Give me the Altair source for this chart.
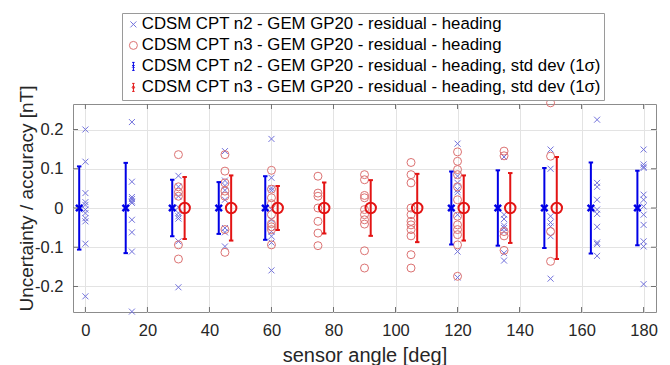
import altair as alt
import pandas as pd

# ---------------- data ----------------
n2_angles = [0, 15, 30, 45, 60, 120, 135, 150, 165, 180]
n2_std = [0.106, 0.115, 0.072, 0.066, 0.081, 0.093, 0.096, 0.102, 0.116, 0.095]
n3_angles = [30, 45, 60, 75, 90, 105, 120, 135, 150]
n3_std = [0.079, 0.083, 0.056, 0.065, 0.071, 0.087, 0.083, 0.089, 0.130]

n2_residuals = {
    0: [0.200, 0.118, 0.038, 0.015, 0.008, -0.004, -0.013, -0.026, -0.034, -0.091, -0.225],
    15: [0.219, 0.067, 0.028, 0.023, 0.017, 0.013, -0.030, -0.062, -0.111, -0.264],
    30: [0.082, 0.054, 0.030, 0.002, -0.013, -0.021, -0.027, -0.085, -0.202],
    45: [0.145, 0.070, 0.057, 0.045, 0.021, -0.051, -0.062, -0.098],
    60: [0.176, 0.077, 0.051, 0.045, -0.004, -0.030, -0.060, -0.072, -0.088, -0.159],
    120: [0.164, 0.081, 0.064, 0.047, 0.040, -0.017, -0.111, -0.177],
    135: [0.130, -0.017, -0.028, -0.045, -0.051, -0.060, -0.115, -0.134],
    150: [0.149, 0.100, -0.021, -0.037, -0.047, -0.072, -0.180],
    165: [0.225, 0.064, 0.054, 0.021, -0.004, -0.015, -0.048, -0.088, -0.092, -0.122],
    180: [0.149, 0.111, 0.105, 0.102, 0.034, 0.021, 0.004, -0.017, -0.043, -0.085, -0.098, -0.194],
}
n3_residuals = {
    30: [0.136, 0.054, 0.040, 0.030, -0.094, -0.130],
    45: [0.136, 0.094, 0.064, 0.043, 0.030, -0.055, -0.113],
    60: [0.096, 0.048, 0.026, 0.011, -0.017, -0.040, -0.048, -0.055, -0.094],
    75: [0.081, 0.038, 0.030, 0.000, -0.034, -0.064, -0.096],
    90: [0.085, 0.072, 0.032, 0.026, -0.004, -0.017, -0.030, -0.041, -0.109, -0.153],
    105: [0.116, 0.085, 0.064, 0.000, -0.017, -0.034, -0.043, -0.055, -0.071, -0.119, -0.153],
    120: [0.143, 0.119, 0.098, 0.085, 0.054, 0.021, -0.021, -0.043, -0.055, -0.068, -0.094, -0.174],
    135: [0.145, 0.133, -0.060, -0.071, -0.108],
    150: [0.268, 0.132, -0.060, -0.136],
}

x_ticks = [0, 20, 40, 60, 80, 100, 120, 140, 160, 180]
y_ticks = [-0.2, -0.1, 0, 0.1, 0.2]

series_names = [
    "CDSM CPT n2 - GEM GP20 - residual - heading",
    "CDSM CPT n3 - GEM GP20 - residual - heading",
    "CDSM CPT n2 - GEM GP20 - residual - heading, std dev (1σ)",
    "CDSM CPT n3 - GEM GP20 - residual - heading, std dev (1σ)",
]
series_colors = ["#7272dc", "#dc7272", "#0000e6", "#e31414"]

ERR_SHIFT = 2  # error bars drawn 2 deg left (n2) / right (n3) of the nominal angle

# ---------------- tables ----------------
scatter_rows = []
for a, vals in n2_residuals.items():
    for v in vals:
        scatter_rows.append({"angle": a, "value": v, "series": series_names[0]})
for a, vals in n3_residuals.items():
    for v in vals:
        scatter_rows.append({"angle": a, "value": v, "series": series_names[1]})
scatter_df = pd.DataFrame(scatter_rows)

n2_df = pd.DataFrame({"x": [a - ERR_SHIFT for a in n2_angles], "mean": [0.0] * len(n2_angles),
                      "lo": [-s for s in n2_std], "hi": n2_std})
n3_df = pd.DataFrame({"x": [a + ERR_SHIFT for a in n3_angles], "mean": [0.0] * len(n3_angles),
                      "lo": [-s for s in n3_std], "hi": n3_std})
xt_df = pd.DataFrame({"t": x_ticks})
yt_df = pd.DataFrame({"t": y_ticks})

# ---------------- scales / shapes ----------------
CROSS = "M-0.75,-0.75L0.75,0.75M-0.75,0.75L0.75,-0.75"
EB_BLUE = "M0,-1L0,1M-0.3,-1L0.3,-1M-0.3,1L0.3,1M-0.3,-0.3L0.3,0.3M-0.3,0.3L0.3,-0.3"
EB_RED = "M0,-1L0,1M-0.3,-1L0.3,-1M-0.3,1L0.3,1M0.3,0A0.3,0.3 0 1,1 -0.3,0A0.3,0.3 0 1,1 0.3,0"

W, H = 583, 208
xs = alt.Scale(domain=[-4, 184], nice=False, zero=False)
ys = alt.Scale(domain=[-0.265, 0.265], nice=False, zero=False)
FONT = "Liberation Sans"

x_enc = alt.X("angle:Q", scale=xs, title="sensor angle [deg]",
              axis=alt.Axis(values=x_ticks, grid=True, ticks=False, domain=False,
                            labelFontSize=16.5, titleFontSize=20, labelPadding=10,
                            titleBaseline="alphabetic", titleY=49,
                            labelColor="#262626", titleColor="#262626",
                            titleFontWeight="normal", labelFont=FONT, titleFont=FONT))
y_enc = alt.Y("value:Q", scale=ys, title="Uncertainty / accuracy [nT]",
              axis=alt.Axis(values=y_ticks, grid=True, ticks=False, domain=False,
                            labelExpr="toString(round(datum.value*10)/10)",
                            labelFontSize=16.5, titleFontSize=19, labelPadding=10,
                            titleBaseline="alphabetic", titleX=-41, titleY=94,
                            titleAlign="center", titleAngle=270,
                            labelColor="#262626", titleColor="#262626",
                            titleFontWeight="normal", labelFont=FONT, titleFont=FONT))

scatter = alt.Chart(scatter_df).mark_point(filled=False, size=64, strokeWidth=1, opacity=1).encode(
    x=x_enc, y=y_enc,
    color=alt.Color("series:N", scale=alt.Scale(domain=series_names, range=series_colors),
                    legend=alt.Legend(title=None)),
    shape=alt.Shape("series:N", scale=alt.Scale(domain=series_names,
                                                range=[CROSS, "circle", EB_BLUE, EB_RED]),
                    legend=alt.Legend(title=None)),
)


def errbar(df, color, center_shape, center_size, center_sw):
    xe = alt.X("x:Q", scale=xs)
    rule = alt.Chart(df).mark_rule(strokeWidth=2, color=color).encode(
        x=xe, y=alt.Y("lo:Q", scale=ys), y2="hi:Q")
    cap_lo = alt.Chart(df).mark_point(shape="M-1,0L1,0", size=20, strokeWidth=2, color=color,
                                      opacity=1).encode(x=xe, y=alt.Y("lo:Q", scale=ys))
    cap_hi = alt.Chart(df).mark_point(shape="M-1,0L1,0", size=20, strokeWidth=2, color=color,
                                      opacity=1).encode(x=xe, y=alt.Y("hi:Q", scale=ys))
    center = alt.Chart(df).mark_point(shape=center_shape, size=center_size, strokeWidth=center_sw,
                                      color=color, filled=False, opacity=1).encode(
        x=xe, y=alt.Y("mean:Q", scale=ys))
    return [rule, cap_lo, cap_hi, center]


eb2 = errbar(n2_df, series_colors[2], "M-1,-1L1,1M-1,1L1,-1", 42, 2.5)
eb3 = errbar(n3_df, series_colors[3], "circle", 110, 2)

TICKC = "#707070"
xt_bot = alt.Chart(xt_df).mark_rule(color=TICKC, strokeWidth=1).encode(
    x=alt.X("t:Q", scale=xs), y=alt.value(H), y2=alt.value(H - 5))
xt_top = alt.Chart(xt_df).mark_rule(color=TICKC, strokeWidth=1).encode(
    x=alt.X("t:Q", scale=xs), y=alt.value(0), y2=alt.value(5))
yt_left = alt.Chart(yt_df).mark_rule(color=TICKC, strokeWidth=1).encode(
    y=alt.Y("t:Q", scale=ys), x=alt.value(0), x2=alt.value(5))
yt_right = alt.Chart(yt_df).mark_rule(color=TICKC, strokeWidth=1).encode(
    y=alt.Y("t:Q", scale=ys), x=alt.value(W), x2=alt.value(W - 5))

chart = alt.layer(scatter, *eb2, *eb3, xt_bot, xt_top, yt_left, yt_right).properties(
    width=W, height=H,
    autosize=alt.AutoSizeParams(type="none"),
    padding={"left": 65, "top": 96, "right": 6, "bottom": 53},
).configure_view(
    stroke="#8c8c8c", strokeWidth=1
).configure_axis(
    gridColor="#e3e3e3", gridWidth=1
).configure_legend(
    orient="none", legendX=49, legendY=-91,
    strokeColor="#9a9a9a", fillColor="white", padding=3,
    labelFont=FONT, labelFontSize=16.8, labelColor="#000000", labelLimit=600,
    labelOffset=0, symbolSize=64, symbolStrokeWidth=1, symbolFillColor="transparent",
    rowPadding=3, symbolOpacity=1,
)

chart.save("out.html", embed_options={"renderer": "svg", "actions": False})
